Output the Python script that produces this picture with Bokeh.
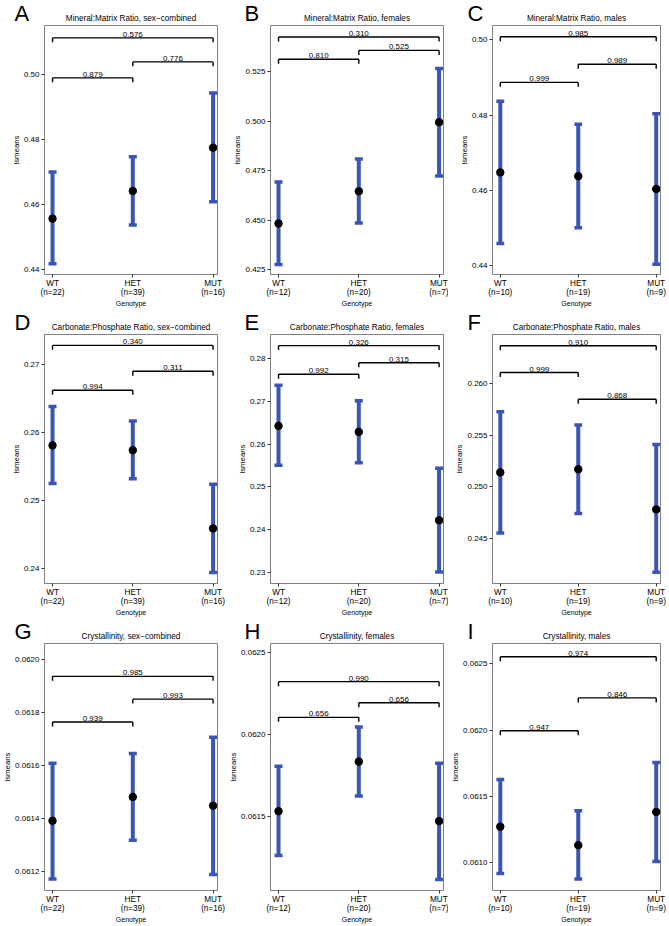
from bokeh.plotting import figure
from bokeh.layouts import gridplot
from bokeh.models import Range1d, FixedTicker, Title, NumeralTickFormatter
from bokeh.embed import file_html
from bokeh.resources import INLINE
from bokeh.core.properties import value

# ---------------- data ----------------
genotypes = ["WT", "HET", "MUT"]
n_combined = [22, 39, 16]
n_females = [12, 20, 7]
n_males = [10, 19, 9]
pairs = [(1, 2), (2, 3), (1, 3)]  # WT-HET, HET-MUT, WT-MUT

letters = ["A", "B", "C", "D", "E", "F", "G", "H", "I"]
titles = [
    "Mineral:Matrix Ratio, sex\u2212combined",
    "Mineral:Matrix Ratio, females",
    "Mineral:Matrix Ratio, males",
    "Carbonate:Phosphate Ratio, sex\u2212combined",
    "Carbonate:Phosphate Ratio, females",
    "Carbonate:Phosphate Ratio, males",
    "Crystallinity, sex\u2212combined",
    "Crystallinity, females",
    "Crystallinity, males",
]

A_mean = [0.4558, 0.4643, 0.4776]
A_lower = [0.4419, 0.4538, 0.4610]
A_upper = [0.4701, 0.4748, 0.4944]
A_pvals = ["0.879", "0.776", "0.576"]
A_brk = [0.4991, 0.5040, 0.5114]
A_yticks = [0.44, 0.46, 0.48, 0.50]
A_ylim = (0.4386, 0.5152)

B_mean = [0.4483, 0.4646, 0.4995]
B_lower = [0.4275, 0.4486, 0.4723]
B_upper = [0.4693, 0.4809, 0.5267]
B_pvals = ["0.810", "0.525", "0.310"]
B_brk = [0.5313, 0.5358, 0.5426]
B_yticks = [0.425, 0.450, 0.475, 0.500, 0.525]
B_ylim = (0.4225, 0.5484)

C_mean = [0.4648, 0.4638, 0.4604]
C_lower = [0.4459, 0.4501, 0.4404]
C_upper = [0.4837, 0.4776, 0.4804]
C_pvals = ["0.999", "0.989", "0.985"]
C_brk = [0.4887, 0.4935, 0.5008]
C_yticks = [0.44, 0.46, 0.48, 0.50]
C_ylim = (0.4377, 0.5038)

D_mean = [0.2581, 0.2574, 0.2459]
D_lower = [0.2525, 0.2532, 0.2394]
D_upper = [0.2638, 0.2617, 0.2524]
D_pvals = ["0.994", "0.311", "0.340"]
D_brk = [0.2662, 0.2690, 0.2728]
D_yticks = [0.24, 0.25, 0.26, 0.27]
D_ylim = (0.2378, 0.2744)

E_mean = [0.2643, 0.2629, 0.2422]
E_lower = [0.2551, 0.2557, 0.2301]
E_upper = [0.2738, 0.2702, 0.2544]
E_pvals = ["0.992", "0.315", "0.326"]
E_brk = [0.2764, 0.2791, 0.2831]
E_yticks = [0.23, 0.24, 0.25, 0.26, 0.27, 0.28]
E_ylim = (0.2274, 0.2857)

F_mean = [0.2514, 0.2517, 0.2478]
F_lower = [0.2455, 0.2474, 0.2417]
F_upper = [0.2573, 0.2560, 0.2541]
F_pvals = ["0.999", "0.868", "0.910"]
F_brk = [0.2611, 0.2585, 0.2637]
F_yticks = [0.245, 0.250, 0.255, 0.260]
F_ylim = (0.2406, 0.2648)

G_mean = [0.061393, 0.061483, 0.061450]
G_lower = [0.061173, 0.061320, 0.061190]
G_upper = [0.061610, 0.061647, 0.061708]
G_pvals = ["0.939", "0.993", "0.985"]
G_brk = [0.061766, 0.061852, 0.061938]
G_yticks = [0.0612, 0.0614, 0.0616, 0.0618, 0.0620]
G_ylim = (0.06113, 0.062062)

H_mean = [0.061530, 0.061833, 0.061470]
H_lower = [0.061260, 0.061623, 0.061113]
H_upper = [0.061804, 0.062044, 0.061823]
H_pvals = ["0.656", "0.656", "0.990"]
H_brk = [0.062103, 0.062192, 0.062321]
H_yticks = [0.0615, 0.0620, 0.0625]
H_ylim = (0.061046, 0.062554)

I_mean = [0.061268, 0.061128, 0.061380]
I_lower = [0.060913, 0.060873, 0.061005]
I_upper = [0.061625, 0.061388, 0.061755]
I_pvals = ["0.947", "0.846", "0.974"]
I_brk = [0.061995, 0.062243, 0.062555]
I_yticks = [0.0610, 0.0615, 0.0620, 0.0625]
I_ylim = (0.060785, 0.062655)

panels = [
    (A_mean, A_lower, A_upper, A_pvals, A_brk, A_yticks, A_ylim, n_combined, "0.00"),
    (B_mean, B_lower, B_upper, B_pvals, B_brk, B_yticks, B_ylim, n_females, "0.000"),
    (C_mean, C_lower, C_upper, C_pvals, C_brk, C_yticks, C_ylim, n_males, "0.00"),
    (D_mean, D_lower, D_upper, D_pvals, D_brk, D_yticks, D_ylim, n_combined, "0.00"),
    (E_mean, E_lower, E_upper, E_pvals, E_brk, E_yticks, E_ylim, n_females, "0.00"),
    (F_mean, F_lower, F_upper, F_pvals, F_brk, F_yticks, F_ylim, n_males, "0.000"),
    (G_mean, G_lower, G_upper, G_pvals, G_brk, G_yticks, G_ylim, n_combined, "0.0000"),
    (H_mean, H_lower, H_upper, H_pvals, H_brk, H_yticks, H_ylim, n_females, "0.0000"),
    (I_mean, I_lower, I_upper, I_pvals, I_brk, I_yticks, I_ylim, n_males, "0.0000"),
]

# ---------------- style ----------------
FONT = "Liberation Sans"
BLUE = "#3A55B4"
COL_W = [226, 222, 220]
COL_R = [9, 5, 8]
ROW_H = [309, 309, 307]
LEFT = 39
TOP = 25
BOTTOM = 33
LETTER_DX = [-30, -26, -25]
CAP = 0.05
TICK_PX = 4.5


def make_panel(idx):
    mean, lower, upper, pvals, brk, yticks, ylim, ns, fmt = panels[idx]
    col = idx % 3
    row = idx // 3
    frame_h = ROW_H[row] - TOP - BOTTOM
    x = [i + 1 for i in range(len(genotypes))]
    p = figure(width=COL_W[col], height=ROW_H[row],
               x_range=Range1d(0.9, 3.055), y_range=Range1d(ylim[0], ylim[1]),
               output_backend="svg", toolbar_location=None,
               min_border_left=LEFT, min_border_right=COL_R[col],
               min_border_top=TOP, min_border_bottom=BOTTOM,
               background_fill_color="white", border_fill_color="white")

    # panel letter (outer title) and chart title (inner title, next to the frame)
    p.title.text = letters[idx]
    p.title.align = "left"
    p.title.offset = LETTER_DX[col]
    p.title.text_font = FONT
    p.title.text_font_size = "22px"
    p.title.text_font_style = "normal"
    p.title.text_color = "black"
    p.title.standoff = -34
    p.add_layout(Title(text=titles[idx], align="center", text_font=FONT,
                       text_font_size="8.2px", text_font_style="normal",
                       text_color="black", standoff=6), "above")

    p.grid.visible = False
    p.outline_line_color = "#808080"
    p.outline_line_width = 1

    for ax in (p.xaxis[0], p.yaxis[0]):
        ax.axis_line_color = None
        ax.minor_tick_line_color = None
        ax.major_tick_in = 0
        ax.major_tick_out = 3
        ax.major_tick_line_color = "#333333"
        ax.major_label_text_font = FONT
        ax.major_label_text_color = "black"
        ax.axis_label_text_font = FONT
        ax.axis_label_text_font_style = "normal"
        ax.axis_label_text_color = "black"
        ax.axis_label_standoff = 0

    p.xaxis.ticker = FixedTicker(ticks=x)
    p.xaxis.major_label_overrides = {xi: f"{g}\n(n={n})" for xi, g, n in zip(x, genotypes, ns)}
    p.xaxis.major_label_text_font_size = "8.2px"
    p.xaxis.major_label_text_line_height = 1.0
    p.xaxis.major_label_standoff = 1
    p.xaxis.axis_label = "Genotype"
    p.xaxis.axis_label_text_font_size = "7px"

    p.yaxis.ticker = FixedTicker(ticks=yticks)
    p.yaxis.formatter = NumeralTickFormatter(format=fmt)
    p.yaxis.major_label_text_font_size = "8px"
    p.yaxis.major_label_standoff = 2
    p.yaxis.axis_label = "lsmeans"
    p.yaxis.axis_label_text_font_size = "7.8px"

    # error bars
    p.segment(x0=x, y0=lower, x1=x, y1=upper, line_color=BLUE, line_width=4)
    xl = [xi - CAP for xi in x]
    xr = [xi + CAP for xi in x]
    p.segment(x0=xl, y0=upper, x1=xr, y1=upper, line_color=BLUE, line_width=3.5)
    p.segment(x0=xl, y0=lower, x1=xr, y1=lower, line_color=BLUE, line_width=3.5)
    p.scatter(x=x, y=mean, size=7.5, fill_color="black", line_color="black")

    # significance brackets
    tl = (ylim[1] - ylim[0]) / frame_h * TICK_PX
    xa = [a for a, b in pairs]
    xb = [b for a, b in pairs]
    p.segment(x0=xa, y0=brk, x1=xb, y1=brk, line_color="black", line_width=1.4)
    p.segment(x0=xa, y0=brk, x1=xa, y1=[v - tl for v in brk], line_color="black", line_width=1.4)
    p.segment(x0=xb, y0=brk, x1=xb, y1=[v - tl for v in brk], line_color="black", line_width=1.4)
    p.text(x=[(a + b) / 2 for a, b in pairs], y=brk, text=pvals,
           text_align="center", text_baseline="bottom", y_offset=-1,
           text_font=value(FONT), text_font_size="8px", text_color="black")
    return p


figs = [make_panel(i) for i in range(9)]
grid = gridplot([figs[0:3], figs[3:6], figs[6:9]], toolbar_location=None)

open("out.html", "w").write(file_html(grid, INLINE))
